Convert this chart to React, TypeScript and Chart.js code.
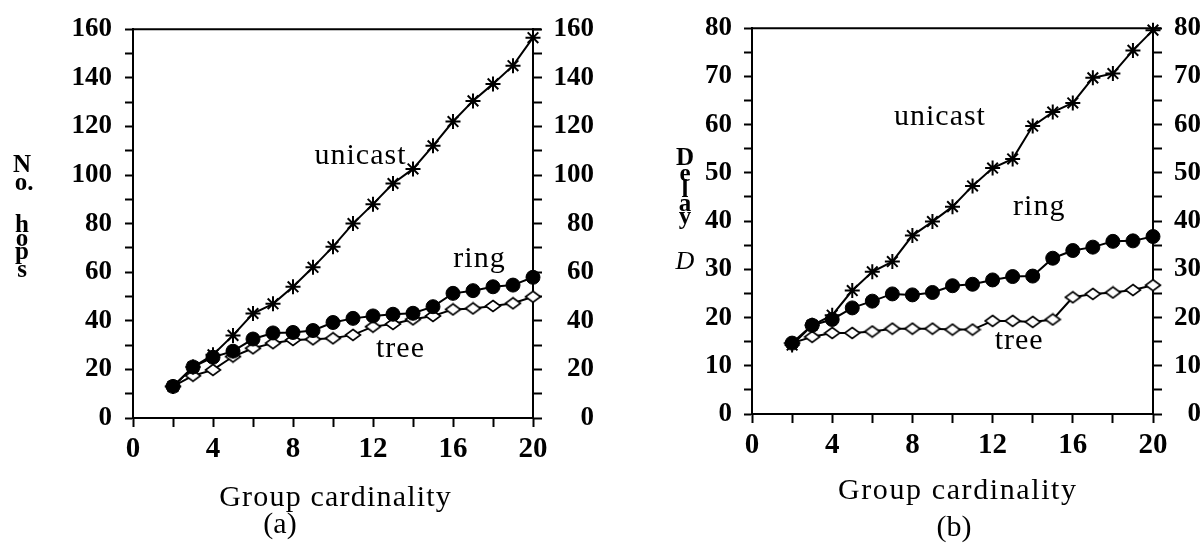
import React, { useEffect, useRef } from 'react';
import { Chart, registerables } from 'chart.js';

Chart.register(...registerables);

// ---------- data ----------
const cardinality = [2, 3, 4, 5, 6, 7, 8, 9, 10, 11, 12, 13, 14, 15, 16, 17, 18, 19, 20];

// (a) number of hops
const hopsUnicast = [13, 21, 26, 34, 43, 47, 54, 62, 70.5, 80, 88, 96.5, 102.5, 112, 122, 130.5, 137.5, 145, 156.5];
const hopsRing = [13, 21, 25, 27.5, 32.5, 35, 35.2, 36, 39.3, 41, 42, 42.7, 43.1, 45.8, 51.3, 52.4, 54, 54.7, 57.9];
const hopsTree = [13, 17.4, 19.8, 25.3, 28.7, 30.8, 32.1, 32.4, 32.8, 34.2, 37.6, 38.7, 40.6, 42, 44.7, 45.1, 46.1, 47.2, 49.9];

// (b) delay D
const delayUnicast = [14.3, 18.4, 20.5, 25.6, 29.5, 31.6, 37, 39.9, 43, 47.3, 51, 52.9, 59.7, 62.6, 64.5, 69.7, 70.6, 75.4, 79.6];
const delayRing = [14.7, 18.4, 19.6, 22, 23.4, 24.9, 24.7, 25.2, 26.6, 26.9, 27.8, 28.5, 28.6, 32.3, 33.9, 34.6, 35.8, 35.9, 36.8];
const delayTree = [14.7, 16, 16.8, 16.8, 17.1, 17.7, 17.7, 17.7, 17.5, 17.5, 19.3, 19.3, 19.1, 19.6, 24.2, 24.9, 25.2, 25.7, 26.7];

// tick labels
const xLabelValues = [0, 4, 8, 12, 16, 20];
const hopsLabelValues = [0, 20, 40, 60, 80, 100, 120, 140, 160];
const delayLabelValues = [0, 10, 20, 30, 40, 50, 60, 70, 80];

const seriesNames = ['unicast', 'ring', 'tree'];

const FAMILY = "'Liberation Serif', 'Times New Roman', serif";

type TextItem = {
  text: string;
  x: number;
  y: number;
  font: string;
  data?: boolean;
  spacing?: number;
};

type PanelSpec = {
  left: number;
  width: number;
  areaLeft: number;
  areaRight: number;
  areaTop: number;
  areaBottom: number;
  rightLabelEdge: number;
  yMax: number;
  yStep: number;
  yLabels: number[];
  leftPad: number;
  series: number[][];
  texts: TextItem[];
};

function makeDiamond(): HTMLCanvasElement {
  const c = document.createElement('canvas');
  c.width = 18;
  c.height = 14;
  const g = c.getContext('2d')!;
  g.fillStyle = '#fff';
  g.strokeStyle = '#000';
  g.lineWidth = 1.6;
  g.beginPath();
  g.moveTo(9, 1.5);
  g.lineTo(16.5, 7);
  g.lineTo(9, 12.5);
  g.lineTo(1.5, 7);
  g.closePath();
  g.fill();
  g.stroke();
  return c;
}

const textPlugin = {
  id: 'panelTexts',
  afterDraw(chart: any, _args: any, opts: any) {
    const ctx = chart.ctx as CanvasRenderingContext2D;
    const { chartArea } = chart;
    // top frame line
    ctx.save();
    ctx.strokeStyle = '#000';
    ctx.lineWidth = 2;
    ctx.beginPath();
    ctx.moveTo(chartArea.left - 1, chartArea.top);
    ctx.lineTo(chartArea.right + 8, chartArea.top);
    ctx.stroke();
    ctx.restore();

    const items: TextItem[] = opts.items || [];
    for (const it of items) {
      ctx.save();
      ctx.font = it.font;
      ctx.fillStyle = '#000';
      ctx.textAlign = 'center';
      ctx.textBaseline = 'alphabetic';
      (ctx as any).letterSpacing = (it.spacing || 0) + 'px';
      let px = it.x;
      let py = it.y;
      if (it.data) {
        px = chart.scales.x.getPixelForValue(it.x);
        py = chart.scales.y.getPixelForValue(it.y);
      }
      ctx.fillText(it.text, px + (it.spacing || 0) / 2, py);
      ctx.restore();
    }
  },
};

function makeConfig(p: PanelSpec): any {
  const diamond = makeDiamond();
  const styles = [
    { pointStyle: 'star', pointRadius: 7.5, pointBackgroundColor: '#000', pointBorderWidth: 2 },
    { pointStyle: 'circle', pointRadius: 7, pointBackgroundColor: '#000', pointBorderWidth: 1 },
    { pointStyle: diamond, pointRadius: 7, pointBackgroundColor: '#fff', pointBorderWidth: 1.6 },
  ];
  const datasets = p.series.map((vals, k) => ({
    label: seriesNames[k],
    data: cardinality.map((x, i) => ({ x, y: vals[i] })),
    borderColor: '#000',
    borderWidth: 2,
    pointBorderColor: '#000',
    tension: 0,
    fill: false,
    clip: false,
    ...styles[k],
  }));

  const tickFont = { family: FAMILY, size: 27, weight: 'bold' };
  const yCommon = (position: string, pad: number, width: number, far: boolean) => ({
    type: 'linear',
    position,
    min: 0,
    max: p.yMax,
    ticks: {
      stepSize: p.yStep,
      autoSkip: false,
      color: '#000',
      font: tickFont,
      padding: pad,
      crossAlign: far ? 'far' : 'near',
      callback: (v: number) => (p.yLabels.includes(v) ? String(v) : ''),
    },
    grid: {
      drawOnChartArea: false,
      drawTicks: true,
      tickLength: position === 'left' ? 8 : 9,
      tickWidth: 2,
      tickColor: '#000',
    },
    border: { display: true, color: '#000', width: 2 },
    afterFit: (s: any) => {
      s.width = width;
    },
  });

  return {
    type: 'line',
    data: { datasets },
    options: {
      responsive: false,
      maintainAspectRatio: false,
      animation: false,
      devicePixelRatio: 1,
      events: [],
      layout: { padding: { top: p.areaTop, left: 0, right: p.width - p.rightLabelEdge, bottom: 0 } },
      plugins: {
        legend: { display: false },
        tooltip: { enabled: false },
        title: { display: false },
        panelTexts: { items: p.texts },
      },
      scales: {
        x: {
          type: 'linear',
          position: 'bottom',
          min: 0,
          max: 20,
          ticks: {
            stepSize: 2,
            autoSkip: false,
            maxRotation: 0,
            color: '#000',
            font: { family: FAMILY, size: 29, weight: 'bold' },
            padding: 5,
            callback: (v: number) => (xLabelValues.includes(v) ? String(v) : ''),
          },
          grid: {
            drawOnChartArea: false,
            drawTicks: true,
            tickLength: 9,
            tickWidth: 2,
            tickColor: '#000',
          },
          border: { display: true, color: '#000', width: 2 },
          afterFit: (s: any) => {
            s.height = 554 - p.areaBottom;
          },
        },
        y: yCommon('left', p.leftPad, p.areaLeft, false),
        y2: yCommon('right', 0, p.rightLabelEdge - p.areaRight, true),
      },
    },
    plugins: [textPlugin],
  };
}

const labelFont = `30px ${FAMILY}`;
const curveFont = `30px ${FAMILY}`;
const vertFont = `bold 25px ${FAMILY}`;

const panelA: PanelSpec = {
  left: 0,
  width: 640,
  areaLeft: 133,
  areaRight: 533,
  areaTop: 26,
  areaBottom: 418,
  rightLabelEdge: 594,
  yMax: 160,
  yStep: 10,
  yLabels: hopsLabelValues,
  leftPad: 13,
  series: [hopsUnicast, hopsRing, hopsTree],
  texts: [
    { text: 'Group cardinality', x: 335, y: 506, font: labelFont, spacing: 1.2 },
    { text: '(a)', x: 280, y: 533, font: labelFont },
    { text: 'N', x: 22, y: 172, font: vertFont },
    { text: 'o.', x: 24, y: 190, font: vertFont },
    { text: 'h', x: 22, y: 232, font: vertFont },
    { text: 'o', x: 22, y: 246, font: vertFont },
    { text: 'p', x: 22, y: 259, font: vertFont },
    { text: 's', x: 22, y: 277, font: vertFont },
    { text: 'unicast', x: 11.35, y: 104.5, font: curveFont, data: true, spacing: 1 },
    { text: 'ring', x: 17.3, y: 62, font: curveFont, data: true, spacing: 1 },
    { text: 'tree', x: 13.35, y: 24.9, font: curveFont, data: true, spacing: 1 },
  ],
};

const panelB: PanelSpec = {
  left: 640,
  width: 564,
  areaLeft: 112,
  areaRight: 513,
  areaTop: 22,
  areaBottom: 414,
  rightLabelEdge: 561,
  yMax: 80,
  yStep: 5,
  yLabels: delayLabelValues,
  leftPad: 12,
  series: [delayUnicast, delayRing, delayTree],
  texts: [
    { text: 'Group cardinality', x: 317, y: 499, font: labelFont, spacing: 1.6 },
    { text: '(b)', x: 314, y: 536, font: labelFont },
    { text: 'D', x: 45, y: 165, font: vertFont },
    { text: 'e', x: 45, y: 181, font: vertFont },
    { text: 'l', x: 45, y: 197, font: vertFont },
    { text: 'a', x: 45, y: 211, font: vertFont },
    { text: 'y', x: 45, y: 224, font: vertFont },
    { text: 'D', x: 45, y: 269, font: `italic 26px ${FAMILY}` },
    { text: 'unicast', x: 9.35, y: 60, font: curveFont, data: true, spacing: 1 },
    { text: 'ring', x: 14.3, y: 41.2, font: curveFont, data: true, spacing: 1 },
    { text: 'tree', x: 13.3, y: 13.5, font: curveFont, data: true, spacing: 1 },
  ],
};

function ChartPanel({ spec }: { spec: PanelSpec }) {
  const ref = useRef<HTMLCanvasElement>(null);
  useEffect(() => {
    if (!ref.current) return;
    const chart = new Chart(ref.current, makeConfig(spec));
    return () => chart.destroy();
  }, [spec]);
  return (
    <canvas
      ref={ref}
      width={spec.width}
      height={554}
      style={{ position: 'absolute', left: spec.left, top: 0, width: spec.width, height: 554, display: 'block' }}
    />
  );
}

export default function App() {
  return (
    <div style={{ position: 'fixed', left: 0, top: 0, width: 1204, height: 554, background: '#fff', overflow: 'hidden' }}>
      <ChartPanel spec={panelA} />
      <ChartPanel spec={panelB} />
    </div>
  );
}
